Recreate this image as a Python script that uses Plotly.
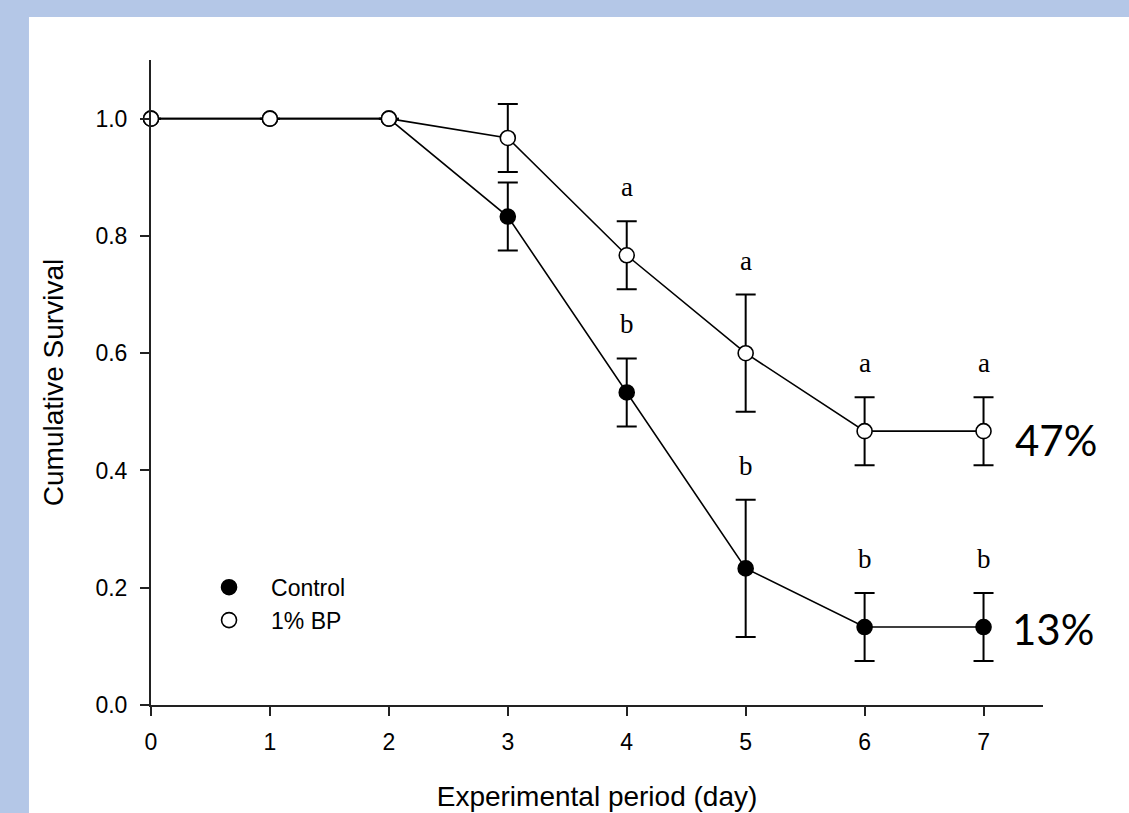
import plotly.graph_objects as go

days = [0, 1, 2, 3, 4, 5, 6, 7]
control = [1.0, 1.0, 1.0, 0.833, 0.533, 0.233, 0.133, 0.133]
control_err = [0, 0, 0, 0.058, 0.058, 0.117, 0.058, 0.058]
bp = [1.0, 1.0, 1.0, 0.967, 0.767, 0.600, 0.467, 0.467]
bp_err = [0, 0, 0, 0.058, 0.058, 0.100, 0.058, 0.058]
control_letters = ["", "", "", "", "b", "b", "b", "b"]
bp_letters = ["", "", "", "", "a", "a", "a", "a"]
end_labels = {"1% BP": "47%", "Control": "13%"}
y_ticks = [0.0, 0.2, 0.4, 0.6, 0.8, 1.0]
x_ticks = days

SANS = "Liberation Sans, Arial, sans-serif"
SERIF = "Liberation Serif, Times New Roman, serif"

fig = go.Figure()

def add_series(name, y, err, fill):
    fig.add_trace(go.Scatter(
        x=days, y=y, mode="lines+markers", name=name, showlegend=False,
        line=dict(color="black", width=1.6),
        marker=dict(size=15, color=fill, line=dict(color="black", width=1.6)),
        error_y=dict(type="data", array=err,
                     visible=True, color="black", thickness=2, width=10),
        cliponaxis=False,
    ))
    # legend-only entry (marker only)
    fig.add_trace(go.Scatter(
        x=[None], y=[None], mode="markers", name=name,
        marker=dict(size=15, color=fill, line=dict(color="black", width=1.6)),
    ))

add_series("Control", control, control_err, "black")
add_series("1% BP", bp, bp_err, "white")

# significance letters
for x, y, e, t in zip(days, control, control_err, control_letters):
    if t:
        fig.add_annotation(x=x, y=y + e, text=t, showarrow=False, yshift=34,
                           font=dict(family=SERIF, size=27, color="black"))
for x, y, e, t in zip(days, bp, bp_err, bp_letters):
    if t:
        fig.add_annotation(x=x, y=y + e, text=t, showarrow=False, yshift=34,
                           font=dict(family=SERIF, size=27, color="black"))

# end percentage labels
fig.add_annotation(x=days[-1], y=bp[-1], text=end_labels["1% BP"], showarrow=False,
                   xanchor="left", xshift=29, yshift=-9,
                   font=dict(family="Lato, Open Sans, sans-serif", size=42, color="black"))
fig.add_annotation(x=days[-1], y=control[-1], text=end_labels["Control"], showarrow=False,
                   xanchor="left", xshift=26, yshift=-2,
                   font=dict(family="Lato, Open Sans, sans-serif", size=42, color="black"))

# white panel over blue page
fig.add_shape(type="rect", xref="paper", yref="paper",
              x0=-0.1368, x1=1.1, y0=-0.2, y1=1.0667,
              fillcolor="white", line=dict(width=0), layer="below")

fig.update_layout(
    width=1129, height=813,
    margin=dict(l=151, r=86, t=60, b=108, autoexpand=False),
    paper_bgcolor="#B4C7E7",
    plot_bgcolor="rgba(0,0,0,0)",
    font=dict(family=SANS, color="black"),
    legend=dict(x=0.0404, y=0.157, xanchor="left", yanchor="middle",
                bgcolor="rgba(0,0,0,0)", font=dict(family=SANS, size=23),
                itemwidth=74),
)
fig.update_xaxes(
    range=[0, 7.5], tickvals=x_ticks, showgrid=False, zeroline=False,
    showline=True, linecolor="#222", linewidth=2, automargin=False,
    ticks="outside", ticklen=9, tickwidth=2, tickcolor="#222",
    tickfont=dict(size=23), ticklabelstandoff=6,
    title=dict(text="Experimental period (day)", font=dict(size=28), standoff=33),
)
fig.update_yaxes(
    range=[0, 1.1], tickvals=y_ticks, tickformat=".1f", showgrid=False, zeroline=False,
    showline=True, linecolor="#222", linewidth=2, automargin=False,
    ticks="outside", ticklen=9, tickwidth=2, tickcolor="#222",
    tickfont=dict(size=23), ticklabelstandoff=8,
    title=dict(text="Cumulative Survival", font=dict(size=28), standoff=24),
)

fig.write_html("out.html", config={"displayModeBar": False},
               post_script="document.body.style.margin='0';document.body.style.overflow='hidden';")
